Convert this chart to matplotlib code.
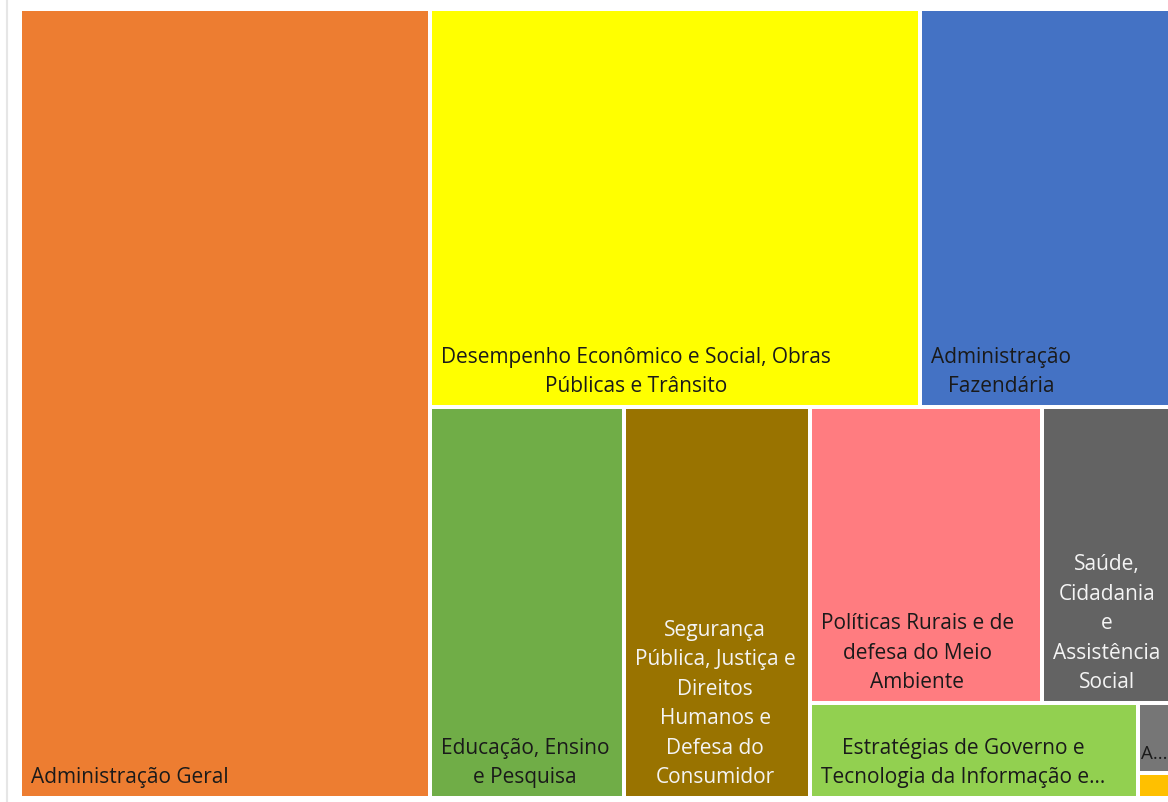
import matplotlib
matplotlib.use("Agg")
import matplotlib.pyplot as plt
from matplotlib.patches import Rectangle

plt.rcParams['font.family'] = ['Open Sans', 'DejaVu Sans']

# values (share of budget, approx. read from the areas)
labels = [
    "Administração Geral",
    "Desempenho Econômico e Social, Obras\nPúblicas e Trânsito",
    "Administração\nFazendária",
    "Educação, Ensino\ne Pesquisa",
    "Segurança\nPública, Justiça e\nDireitos\nHumanos e\nDefesa do\nConsumidor",
    "Políticas Rurais e de\ndefesa do Meio\nAmbiente",
    "Saúde,\nCidadania\ne\nAssistência\nSocial",
    "Estratégias de Governo e\nTecnologia da Informação e...",
    "A...",
    "",
]
values = [356.5, 215.2, 109.8, 83.5, 80.0, 75.6, 41.7, 34.3, 2.5, 0.9]
colors = ['#ED7D31', '#FFFF00', '#4472C4', '#70AD47', '#997300',
          '#FF7C80', '#636363', '#92D050', '#767676', '#FFC000']
text_colors = ['#1a1a1a', '#1a1a1a', '#1a1a1a', '#1a1a1a', '#f4f4f4',
               '#1a1a1a', '#f4f4f4', '#1a1a1a', '#1a1a1a', '#1a1a1a']

# nesting of the treemap: 'h' = side by side, 'v' = stacked
tree = ('h', [0, ('v', [('h', [1, 2]),
                        ('h', [3, 4, ('v', [('h', [5, 6]),
                                            ('h', [7, ('v', [8, 9])])])])])])


def total(node):
    if isinstance(node, int):
        return values[node]
    return sum(total(c) for c in node[1])


def layout(node, x, y, w, h, out):
    if isinstance(node, int):
        out[node] = (x, y, w, h)
        return
    kind, kids = node
    s = total(node)
    for k in kids:
        f = total(k) / s
        if kind == 'h':
            layout(k, x, y, w * f, h, out)
            x += w * f
        else:
            layout(k, x, y, w, h * f, out)
            y += h * f


fig = plt.figure(figsize=(11.68, 8.03), dpi=100)
ax = fig.add_axes([0, 0, 1, 1])
ax.set_xlim(0, 1168)
ax.set_ylim(803, 0)
ax.axis('off')

rects = {}
layout(tree, 20, 10, 1150, 789, rects)

gap = 2
for i, (x, y, w, h) in rects.items():
    ax.add_patch(Rectangle((x + gap, y + gap), w - 2 * gap, h - 2 * gap,
                           facecolor=colors[i], edgecolor='none'))
    if labels[i]:
        pad = 9 if w > 100 else 1
        size = 15 if w > 100 else 13.5
        ax.text(x + gap + pad, y + h - gap - 9, labels[i], ha='left', va='bottom',
                multialignment='center', fontsize=size, color=text_colors[i],
                linespacing=1.53, clip_on=True)

# faint border line on the left
ax.plot([7, 7], [0, 803], color='#e6e6e6', lw=1.5)

fig.savefig('out.png', dpi=100)
